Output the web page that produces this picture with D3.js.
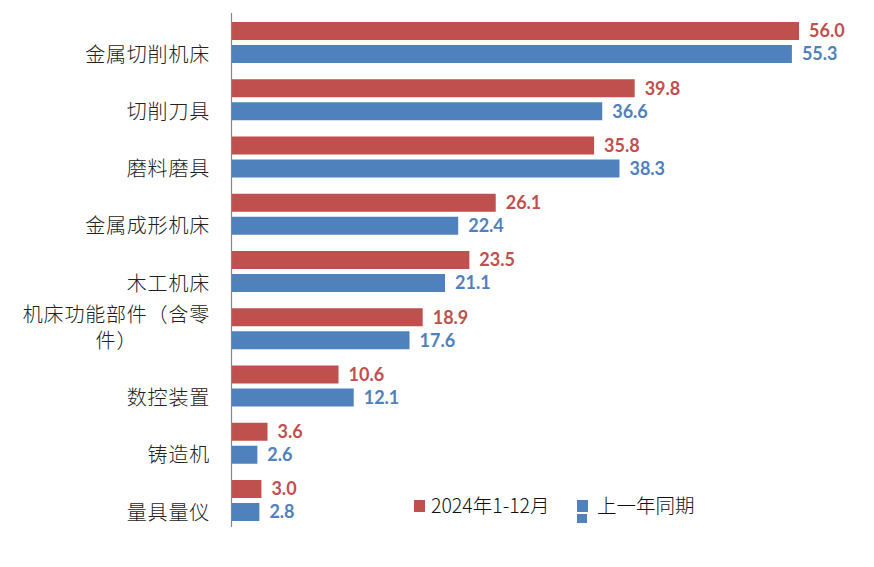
<!DOCTYPE html>
<html>
<head>
<meta charset="utf-8">
<script src="https://cdn.jsdelivr.net/npm/d3@7"></script>
<style>
  body { margin: 0; background: #fff; }
  .cat { font-family: "Noto Sans CJK SC", sans-serif; font-size: 20px; font-weight: 300; letter-spacing: 0.8px; fill: #222; }
  .val { font-family: Lato, "Open Sans", sans-serif; font-size: 18px; font-weight: bold; }
  .legend text { font-family: "Noto Sans CJK SC", sans-serif; font-size: 19.5px; font-weight: 300; fill: #111; }
</style>
</head>
<body>
<div id="chart"></div>
<script>
var categories = ["金属切削机床", "切削刀具", "磨料磨具", "金属成形机床", "木工机床", "机床功能部件（含零\n件）", "数控装置", "铸造机", "量具量仪"]
var current = [56.0, 39.8, 35.8, 26.1, 23.5, 18.9, 10.6, 3.6, 3.0]
var previous = [55.3, 36.6, 38.3, 22.4, 21.1, 17.6, 12.1, 2.6, 2.8]
var seriesNames = ["2024年1-12月", "上一年同期"]
var colors = ["#C0504D", "#4F81BD"]

var W = 874, H = 567
var axisX = 231

var svg = d3.select("#chart").append("svg")
  .attr("width", W)
  .attr("height", H)

var x = d3.scaleLinear().domain([0, 56]).range([axisX, 799])
var y = d3.scaleBand().domain(d3.range(categories.length)).range([13, 528.25]).padding(0)
// two bars inside each band
var y1 = d3.scaleBand().domain([0, 1]).range([9, 50]).paddingInner(0.2174).paddingOuter(0)

var rows = categories.map(function(c, i){
  return {i: i, name: c, vals: [current[i], previous[i]]}
})

var groups = svg.selectAll(".grp")
  .data(rows)
  .enter().append("g")
  .attr("class", "grp")
  .attr("transform", function(d){ return "translate(0," + y(d.i) + ")" })

groups.selectAll("rect")
  .data(function(d){ return d.vals.map(function(v, s){ return {v: v, s: s} }) })
  .enter().append("rect")
  .attr("x", x(0))
  .attr("y", function(d){ return y1(d.s) })
  .attr("width", function(d){ return x(d.v) - x(0) })
  .attr("height", y1.bandwidth())
  .attr("fill", function(d){ return colors[d.s] })

groups.selectAll(".val")
  .data(function(d){ return d.vals.map(function(v, s){ return {v: v, s: s} }) })
  .enter().append("text")
  .attr("class", "val")
  .attr("x", function(d){ return x(d.v) + 10 })
  .attr("y", function(d){ return y1(d.s) + y1.bandwidth() / 2 })
  .attr("dy", "0.36em")
  .attr("fill", function(d){ return colors[d.s] })
  .text(function(d){ return d.v.toFixed(1) })

// category labels
var labelRight = 210
groups.each(function(d){
  var g = d3.select(this)
  var lines = d.name.split("\n")
  var mid = y.bandwidth() / 2
  if(lines.length == 1){
    g.append("text")
      .attr("class", "cat")
      .attr("x", labelRight)
      .attr("y", mid + 13)
      .attr("dy", "0.35em")
      .attr("text-anchor", "end")
      .text(lines[0])
  } else {
    var first = g.append("text")
      .attr("class", "cat")
      .attr("x", labelRight)
      .attr("y", mid - 13)
      .attr("dy", "0.35em")
      .attr("text-anchor", "end")
      .text(lines[0])
    var w = first.node().getComputedTextLength()
    g.append("text")
      .attr("class", "cat")
      .attr("x", labelRight - w / 2)
      .attr("y", mid + 13)
      .attr("dy", "0.35em")
      .attr("text-anchor", "middle")
      .text(lines[1])
  }
})

// value axis line
svg.append("line")
  .attr("x1", axisX + 0.5).attr("x2", axisX + 0.5)
  .attr("y1", 13).attr("y2", 527)
  .attr("stroke", "#868686")
  .attr("stroke-width", 1.2)

// legend
var legend = svg.append("g").attr("class", "legend")
legend.append("rect").attr("x", 414).attr("y", 500).attr("width", 11).attr("height", 12).attr("fill", colors[0])
legend.append("text").attr("x", 431).attr("y", 513).text(seriesNames[0])
legend.append("rect").attr("x", 577).attr("y", 500).attr("width", 11).attr("height", 12).attr("fill", colors[1])
legend.append("rect").attr("x", 577).attr("y", 514).attr("width", 10).attr("height", 9).attr("fill", colors[1])
legend.append("text").attr("x", 597).attr("y", 513).text(seriesNames[1])
</script>
</body>
</html>
